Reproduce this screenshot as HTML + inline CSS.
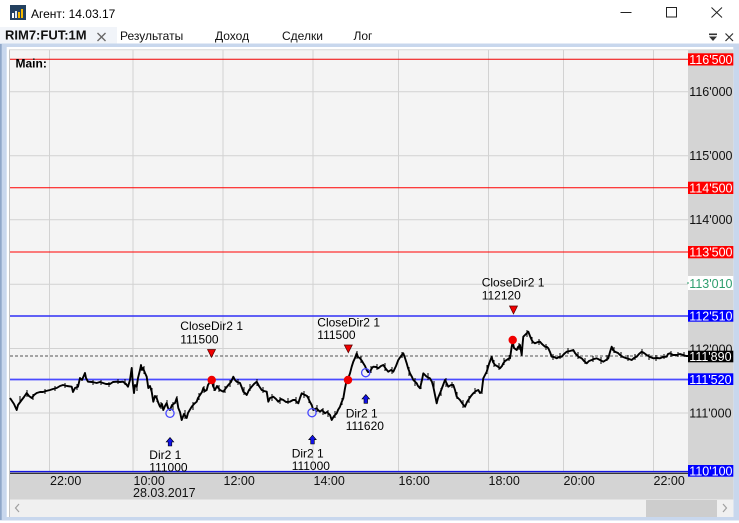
<!DOCTYPE html>
<html><head><meta charset="utf-8"><style>
html,body{margin:0;padding:0;width:739px;height:523px;overflow:hidden;background:#fff}
svg{display:block}
text{font-family:"Liberation Sans","DejaVu Sans",sans-serif}
</style></head><body>
<svg width="739" height="523" viewBox="0 0 739 523" xmlns="http://www.w3.org/2000/svg">
<rect x="0" y="0" width="739" height="523" fill="#ffffff"/>
<!-- title bar -->
<rect x="10" y="5" width="16" height="15" fill="#23405f"/>
<rect x="12" y="13" width="2" height="5" fill="#ffffff"/>
<rect x="15" y="11" width="2" height="7" fill="#dfe8f2"/>
<rect x="18" y="12" width="2" height="6" fill="#f5b800"/>
<rect x="21" y="9" width="2" height="9" fill="#f5b800"/>
<text x="31" y="18" font-size="12" fill="#000">Агент: 14.03.17</text>
<line x1="620.5" y1="12.5" x2="631.5" y2="12.5" stroke="#222" stroke-width="1"/>
<rect x="666.5" y="7.5" width="10" height="9.5" fill="none" stroke="#222" stroke-width="1"/>
<line x1="711.5" y1="7.5" x2="722" y2="17.5" stroke="#222" stroke-width="1"/>
<line x1="722" y1="7.5" x2="711.5" y2="17.5" stroke="#222" stroke-width="1"/>
<!-- tab row -->
<rect x="0" y="27" width="117" height="17" fill="#f1f4f9"/>
<text x="5" y="39.3" font-size="13" font-weight="bold" fill="#111">RIM7:FUT:1M</text>
<line x1="97.5" y1="33" x2="105.5" y2="41" stroke="#666" stroke-width="1.3"/>
<line x1="105.5" y1="33" x2="97.5" y2="41" stroke="#666" stroke-width="1.3"/>
<text x="120" y="40" font-size="12" fill="#111">Результаты</text>
<text x="215" y="40" font-size="12" fill="#111">Доход</text>
<text x="282" y="40" font-size="12" fill="#111">Сделки</text>
<text x="353.5" y="40" font-size="12" fill="#111">Лог</text>
<rect x="709" y="33.5" width="8" height="1.6" fill="#333"/>
<polygon points="709,36.5 717,36.5 713,41" fill="#333"/>
<line x1="725.5" y1="33.5" x2="733" y2="41" stroke="#333" stroke-width="1.2"/>
<line x1="733" y1="33.5" x2="725.5" y2="41" stroke="#333" stroke-width="1.2"/>
<!-- frame -->
<rect x="0" y="43.5" width="739" height="477" fill="#c8d7ed"/>
<rect x="0" y="44" width="1.7" height="476" fill="#8fa7c9"/>
<rect x="6.7" y="47" width="726.6" height="470" fill="#ffffff"/>
<rect x="9" y="49.5" width="724.3" height="467.5" fill="#f4f4f4"/>
<line x1="9.5" y1="49.5" x2="9.5" y2="517" stroke="#c4c4c4" stroke-width="1"/>
<line x1="9" y1="49.7" x2="733.3" y2="49.7" stroke="#d8d8d8" stroke-width="1"/>
<!-- price axis -->
<rect x="688" y="50" width="45.3" height="423" fill="#d4d4d4"/>
<!-- time axis -->
<rect x="10" y="473" width="723.3" height="26.5" fill="#d4d4d4"/>
<!-- scrollbar -->
<rect x="10" y="499.5" width="723.3" height="17.5" fill="#f0f0f0"/>
<rect x="646" y="500" width="71" height="17" fill="#cdcdcd"/>
<polyline points="19,504 15.5,508 19,512" fill="none" stroke="#a0a0a0" stroke-width="1.2"/>
<polyline points="723,504 726.5,508 723,512" fill="none" stroke="#a0a0a0" stroke-width="1.2"/>
<!-- plot grid -->
<g stroke="#d2d2d2" stroke-width="1">
<line x1="49.5" y1="50" x2="49.5" y2="471"/>
<line x1="133" y1="50" x2="133" y2="471"/>
<line x1="223" y1="50" x2="223" y2="471"/>
<line x1="313" y1="50" x2="313" y2="471"/>
<line x1="398.5" y1="50" x2="398.5" y2="471"/>
<line x1="488.5" y1="50" x2="488.5" y2="471"/>
<line x1="563.5" y1="50" x2="563.5" y2="471"/>
<line x1="653.5" y1="50" x2="653.5" y2="471"/>
<line x1="10" y1="91.7" x2="688" y2="91.7"/>
<line x1="10" y1="155.7" x2="688" y2="155.7"/>
<line x1="10" y1="219.7" x2="688" y2="219.7"/>
<line x1="10" y1="284.3" x2="688" y2="284.3"/>
<line x1="10" y1="348.5" x2="688" y2="348.5"/>
<line x1="10" y1="413" x2="688" y2="413"/>
</g>
<!-- level lines -->
<line x1="10" y1="59.3" x2="688" y2="59.3" stroke="#f00000" stroke-width="1"/>
<line x1="10" y1="187.7" x2="688" y2="187.7" stroke="#ff0000" stroke-width="1"/>
<line x1="10" y1="252" x2="688" y2="252" stroke="#ff0000" stroke-width="1"/>
<line x1="10" y1="316" x2="688" y2="316" stroke="#2f2ff5" stroke-width="1.5"/>
<line x1="10" y1="379.5" x2="688" y2="379.5" stroke="#4a4aff" stroke-width="1.7"/>
<line x1="10" y1="356" x2="688" y2="356" stroke="#555" stroke-width="1" stroke-dasharray="3,2"/>
<!-- series -->
<polyline fill="none" stroke="#000" stroke-width="1.9" stroke-linejoin="round" points="10,398 12,401 14,404 16.7,410 18,405 21.7,400 24,397 26.7,393 29,396 31.7,398 34,395 36.7,393 40,392 43,392 46,391 50,390 53,389 56.7,388 60,386 63,385 67,386 71.7,386.7 73,392 75,388 78,386.7 80,378 82,380 85,373 86,378 88,381.7 92,382 96.7,383 100,382 103,383 106,384 110,384 113,382 116.7,381.7 120,382 123,381.7 126,384 128,386.7 130,380 131.7,368 133,385 134,393 135,385 136.7,386.7 138,378 140,370 141,365 142,370 143,368 145,373 146.7,376.7 148.3,388 150,386 151.7,391.7 153.3,401.7 155,396 156.7,398 158,402 160,406.7 162,404 163.3,410 165,406 166.7,403 168,408 170,410 172,405 175,403 176.7,398 178.3,408 180,412 181.7,420 184,414 186.7,418 188,413 191.7,406.7 194,404 196.7,401.7 198,398 200,395 202,392 203.3,388 205,391 206.7,390 208,385 210,381.7 212,380 213,386 215,390 217,386 218.3,388 220,390 223.3,391.7 226,388 228.3,385 231,382 233.3,376.7 235,380 236.7,381.7 240,383 242,388 243.3,391.7 245,393 246.7,395 249,390 251.7,386.7 254,384 256.7,381.7 259,386 261.7,390 264,391 266.7,391.7 268.3,401.7 270,398 273.3,396.7 276,399 278.3,401.7 281,399 283.3,400 286,402 290,401.7 293,400 295,400 297,402 298.3,403.3 300,398 301.7,393.3 303,394 305,395 307,396 308.3,398.3 310,402 311.7,405 313.3,410 315,409 316.7,408.3 318,410 320,411.7 322,410 325,413.3 327,412 330,415 331.7,420 334,416 336.7,413.3 338,410 340,406.7 341.7,402 343.3,398.3 345,388.3 346.7,380 348.3,378 350,373.3 351.7,366.7 353.3,361.7 355,358 356.7,353.3 358,357 360,358.3 362,361 363.3,363.3 365,366 366.7,370 368,372 370,371.7 372,368 373.3,366.7 376,367 378.3,368.3 381,366 383.3,365 386,369 388.3,371.7 391,370 393.3,371.7 396,366 398.3,360 401,356 403.3,353.3 405,358 406.7,363.3 408,368 410,373.3 412,377 413.3,380 416.7,383.3 418,386 420,388.3 422,380 423.3,373.3 426.7,376.7 430,378.3 432,382 433.3,386.7 435,395 436.7,403.3 438,398 440,393.3 442,388 445,380 447,384 448.3,386.7 451,385 453.3,385 455,390 456.7,396.7 458,398 460,400 462,403 465,406.7 467,402 468.3,400 471,396 473.3,393.3 476,391 478.3,390 480,393 481.7,391.7 483.3,378.3 485,375 486.7,371.7 489,364 491.7,356.7 493,362 495,365 497,366 500,368.3 502,366 503.3,363.3 505,361 506.7,360 508,359 510,358.3 511.7,346.7 512.7,342 514,348 516.7,350 518,347 520,345 521.7,355 522.5,345 523.3,336.7 526,334 528.3,331.7 530,336 531.7,340 533,342 535,343.3 538,342 540,341.7 542,344 545,346.7 547,347 548.3,348.3 550,352 551.7,356.7 554,357 556.7,358.3 559,357 561.7,356.7 564,354 566.7,351.7 570,351 573.3,350 575,353 576.7,355 579,357 581.7,358.3 584,361 586.7,363.3 589,361 591.7,360 594,359 596.7,358.3 600,360 603.3,361.7 606,360 608.3,358.3 610,352 611.7,346.7 613,350 615,351.7 618,353 620,355 623,357 626.7,358.3 629,359 631.7,360 634,358 636.7,356.7 639,354 641.7,351.7 644,353 646.7,355 650,357 653.3,358.3 657,358 660,358.3 663,357 666.7,356.7 668,354 670,353.3 673,355 676.7,355 680,354 683.3,355 686,356 688,356"/>
<!-- wicks for bar texture -->
<path fill="none" stroke="#000" stroke-width="1" d="M20,396V403 M27,390V397 M33,394V400 M45,389V394 M55,386V391 M65,383V388 M77,384V390 M93,380V385 M101,380V385 M109,382V387 M118,379V384 M125,379V385 M137,383V391 M144,366V374 M152,388V396 M157,395V402 M161,402V409 M167,400V407 M173,402V410 M177,396V404 M185,410V419 M193,402V410 M199,393V400 M204,386V393 M214,383V391 M219,385V392 M225,386V393 M230,380V387 M238,379V385 M244,387V395 M250,384V391 M257,379V386 M263,387V393 M272,394V401 M280,397V404 M288,398V404 M296,397V404 M304,391V398 M309,396V403 M317,405V412 M323,408V415 M328,410V417 M335,411V418 M342,398V405 M357,351V359 M361,356V363 M371,366V373 M377,364V370 M385,363V371 M392,367V374 M402,352V358 M409,367V376 M415,378V386 M421,381V389 M428,373V380 M434,381V391 M441,388V396 M446,378V387 M452,382V388 M457,392V399 M463,400V408 M469,396V403 M475,388V394 M482,386V394 M487,365V374 M494,360V367 M499,363V370 M504,358V365 M509,355V361 M519,343V350 M527,330V337 M532,337V344 M539,339V345 M546,344V350 M553,354V360 M560,353V359 M568,348V354 M578,352V359 M585,358V364 M593,356V362 M601,357V364 M607,355V361 M614,347V353 M621,352V358 M628,355V361 M635,354V360 M642,349V355 M649,354V360 M656,355V361 M664,354V359 M671,351V357 M678,352V357 M684,352V357"/>
<!-- bottom lines -->
<line x1="10" y1="471.6" x2="688" y2="471.6" stroke="#1515e0" stroke-width="1.4"/>
<line x1="10" y1="473.2" x2="688" y2="473.2" stroke="#000" stroke-width="1"/>
<!-- markers -->
<circle cx="211.7" cy="380" r="4.2" fill="#f00000"/>
<circle cx="348" cy="380" r="4.2" fill="#f00000"/>
<circle cx="512.7" cy="340" r="4.2" fill="#f00000"/>
<circle cx="170" cy="413.3" r="4.1" fill="none" stroke="#4545ff" stroke-width="1.3"/>
<circle cx="312" cy="412.7" r="4.1" fill="none" stroke="#4545ff" stroke-width="1.3"/>
<circle cx="365.7" cy="372.7" r="4.1" fill="none" stroke="#4545ff" stroke-width="1.3"/>
<g fill="#f00000" stroke="#500" stroke-width="0.7">
<polygon points="207.5,349.5 215.5,349.5 211.5,357.3"/>
<polygon points="344.3,345 352.3,345 348.3,352.7"/>
<polygon points="509.5,306 517.5,306 513.5,314"/>
</g>
<g fill="#1212e8" stroke="#000" stroke-width="0.6">
<polygon points="170,437.5 173.8,442 171.8,442 171.8,446 168.2,446 168.2,442 166.2,442"/>
<polygon points="312.5,435.2 316.3,439.7 314.3,439.7 314.3,444 310.7,444 310.7,439.7 308.7,439.7"/>
<polygon points="365.8,394.5 369.6,399 367.6,399 367.6,403.3 364,403.3 364,399 362,399"/>
</g>
<!-- annotations -->
<g font-size="12" fill="#000">
<text x="180.3" y="330">CloseDir2 1</text>
<text x="180.3" y="343.3">111500</text>
<text x="317.3" y="326.7">CloseDir2 1</text>
<text x="317.3" y="339">111500</text>
<text x="481.7" y="286.7">CloseDir2 1</text>
<text x="481.7" y="299.3">112120</text>
<text x="149.3" y="459">Dir2 1</text>
<text x="149.3" y="471.5">111000</text>
<text x="291.7" y="457.3">Dir2 1</text>
<text x="291.7" y="470">111000</text>
<text x="345.7" y="417.3">Dir2 1</text>
<text x="345.7" y="430">111620</text>
</g>
<text x="15.5" y="67.3" font-size="12" font-weight="bold" fill="#000">Main:</text>
<!-- price labels -->
<g font-size="12.5">
<rect x="688" y="53.3" width="45.3" height="12.2" fill="#ff0000"/>
<text x="689.3" y="64" fill="#fff">116'500</text>
<text x="689.3" y="96" fill="#111">116'000</text>
<text x="689.3" y="160" fill="#111">115'000</text>
<rect x="688" y="181.7" width="45.3" height="12.3" fill="#ff0000"/>
<text x="689.3" y="192.3" fill="#fff">114'500</text>
<text x="689.3" y="224" fill="#111">114'000</text>
<rect x="688" y="246" width="45.3" height="12.3" fill="#ff0000"/>
<text x="689.3" y="256.7" fill="#fff">113'500</text>
<rect x="688" y="276" width="45.3" height="14" fill="#ffffff"/>
<line x1="687" y1="283" x2="689" y2="283" stroke="#2e9e6e" stroke-width="1"/>
<text x="689.3" y="288" fill="#2e9e6e">113'010</text>
<rect x="688" y="310" width="45.3" height="11.7" fill="#0000ff"/>
<text x="689.3" y="320.5" fill="#fff">112'510</text>
<text x="689.3" y="353.5" fill="#111">112'000</text>
<rect x="688" y="350.7" width="45.3" height="11.6" fill="#000"/>
<text x="689.3" y="361" fill="#fff">111'890</text>
<rect x="688" y="373.3" width="45.3" height="11.7" fill="#0000ff"/>
<text x="689.3" y="384" fill="#fff">111'520</text>
<text x="689.3" y="417.5" fill="#111">111'000</text>
<rect x="688" y="465" width="45.3" height="11.7" fill="#0000ff"/>
<text x="689.3" y="475.5" fill="#fff">110'100</text>
</g>
<!-- time labels -->
<g font-size="12.5" fill="#111">
<text x="50" y="485">22:00</text>
<text x="133.5" y="485">10:00</text>
<text x="133" y="497">28.03.2017</text>
<text x="223.5" y="485">12:00</text>
<text x="313.5" y="485">14:00</text>
<text x="398.5" y="485">16:00</text>
<text x="488.5" y="485">18:00</text>
<text x="563.5" y="485">20:00</text>
<text x="653.5" y="485">22:00</text>
</g>
</svg>
</body></html>
